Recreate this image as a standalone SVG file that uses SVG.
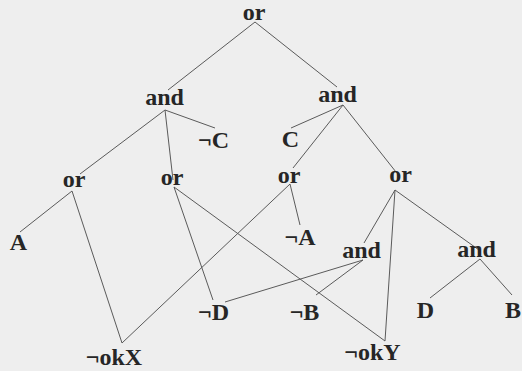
<svg xmlns="http://www.w3.org/2000/svg" width="522" height="371" viewBox="0 0 522 371">
<style>
text{font-family:"Liberation Serif","Times New Roman",serif;font-weight:bold;font-size:24px;fill:#262626;text-anchor:middle}
.e line{stroke:#5a5a5a;stroke-width:1}
</style>
<rect width="522" height="371" fill="#eeeeee"/>
<g id="connectors" class="e">
<line x1="255" y1="22" x2="168" y2="90"/>
<line x1="255" y1="22" x2="337" y2="87"/>
<line x1="165" y1="110" x2="80" y2="174"/>
<line x1="165" y1="110" x2="173" y2="180"/>
<line x1="165" y1="110" x2="215" y2="128"/>
<line x1="343" y1="105" x2="291" y2="128"/>
<line x1="343" y1="105" x2="293" y2="168"/>
<line x1="343" y1="105" x2="396" y2="172"/>
<line x1="72" y1="191" x2="20" y2="232"/>
<line x1="72" y1="191" x2="122" y2="343"/>
<line x1="174" y1="187" x2="213" y2="300"/>
<line x1="174" y1="187" x2="385" y2="341"/>
<line x1="290" y1="184" x2="300" y2="225"/>
<line x1="290" y1="184" x2="122" y2="343"/>
<line x1="395" y1="190" x2="364" y2="243"/>
<line x1="395" y1="190" x2="385" y2="341"/>
<line x1="395" y1="190" x2="479" y2="250"/>
<line x1="363" y1="260" x2="225" y2="302"/>
<line x1="363" y1="260" x2="316" y2="295"/>
<line x1="480" y1="259" x2="430" y2="298"/>
<line x1="480" y1="259" x2="512" y2="295"/>
</g>
<g id="n_root"><text x="254" y="20">or</text></g>
<g id="n_andL"><text x="164.5" y="105">and</text></g>
<g id="n_andR"><text x="337.5" y="102">and</text></g>
<g id="n_notC"><text x="213.5" y="148">¬C</text></g>
<g id="n_C"><text x="290.5" y="147">C</text></g>
<g id="n_orL"><text x="74" y="187">or</text></g>
<g id="n_orML"><text x="172" y="185">or</text></g>
<g id="n_orMR"><text x="289" y="183">or</text></g>
<g id="n_orR"><text x="400.5" y="182">or</text></g>
<g id="n_A"><text x="18.5" y="250">A</text></g>
<g id="n_notA"><text x="300" y="245">¬A</text></g>
<g id="n_andLM"><text x="361.5" y="258">and</text></g>
<g id="n_andRR"><text x="476.5" y="257">and</text></g>
<g id="n_notD"><text x="213.5" y="320">¬D</text></g>
<g id="n_notB"><text x="304.5" y="320">¬B</text></g>
<g id="n_D"><text x="425.5" y="318">D</text></g>
<g id="n_B"><text x="505" y="318" style="text-anchor:start">B</text></g>
<g id="n_notokX"><text x="114" y="365">¬okX</text></g>
<g id="n_notokY"><text x="372.5" y="360">¬okY</text></g>
</svg>
